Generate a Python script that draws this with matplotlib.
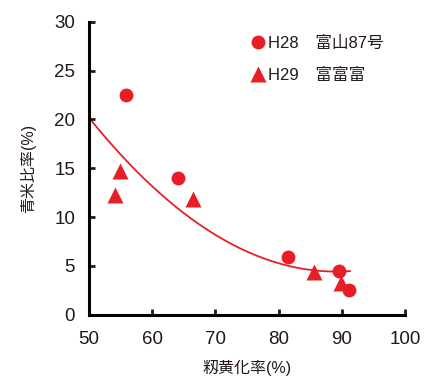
import numpy as np
import matplotlib
matplotlib.use('Agg')
import matplotlib.pyplot as plt

plt.rcParams['font.family'] = ['Liberation Sans', 'Noto Sans CJK JP', 'DejaVu Sans']

#%% Data
h28_x = [55.9, 64.1, 81.5, 89.6, 91.1]
h28_y = [22.5, 14.0, 5.9, 4.5, 2.5]
h29_x = [54.1, 54.9, 66.5, 85.6, 89.9]
h29_y = [12.3, 14.7, 11.9, 4.4, 3.3]
labels = ['H28\u3000富山87号', 'H29\u3000富富富']
# points
trend_x = [50, 66, 75.5, 85.4, 91.3]
trend_y = [20.2, 9.9, 6.3, 4.7, 4.4]
red = '#e61f26'

#%% Trend line (quadratic through read points)
coef = np.polyfit(trend_x, trend_y, 2)
xp = np.linspace(min(trend_x), max(trend_x), 200)

#%% Figure
fig = plt.figure(figsize=(4.28, 3.83), dpi=100)
ax = fig.add_axes([0.208, 0.178, 0.738, 0.765])
ax.plot(xp, np.polyval(coef, xp), '-', color=red, lw=1.3, zorder=1)
ax.plot(h28_x, h28_y, 'o', color=red, ms=10, mec='none', label=labels[0], zorder=2)
ax.plot(h29_x, h29_y, '^', color=red, ms=11, mec='none', label=labels[1], zorder=2)

ax.set_xlim(50, 100)
ax.set_ylim(0, 30)
ax.set_xticks(range(50, 101, 10))
ax.set_yticks(range(0, 31, 5))
for s in ['top', 'right']:
    ax.spines[s].set_visible(False)
for s in ['left', 'bottom']:
    ax.spines[s].set_linewidth(2.2)
ax.tick_params(direction='in', width=2, length=4, labelsize=13.5, colors='#231815')
ax.tick_params(axis='x', pad=12)
ax.tick_params(axis='y', pad=10)
ax.set_xlabel('籾黄化率(%)', fontsize=11.5, labelpad=8, color='#231815')
ax.set_ylabel('青米比率(%)', fontsize=11.5, labelpad=13, color='#231815')

ax.legend(loc='upper left', bbox_to_anchor=(0.45, 1.01), frameon=False, fontsize=12,
          handletextpad=0.0, handlelength=1.2, labelspacing=1.05, borderaxespad=0.6,
          labelcolor='#231815')

plt.savefig('out.png', dpi=100)
